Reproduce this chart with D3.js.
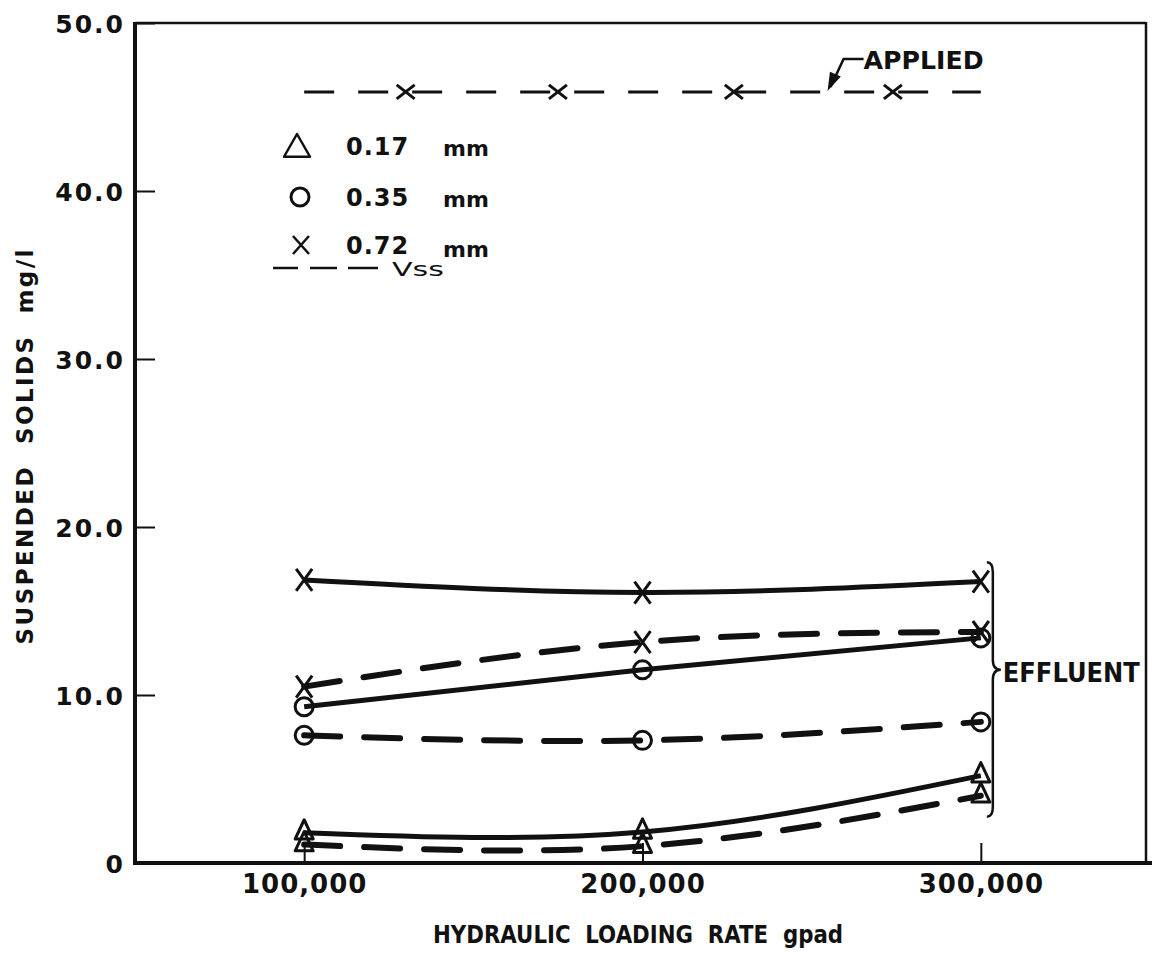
<!DOCTYPE html>
<html>
<head>
<meta charset="utf-8">
<script src="https://cdn.jsdelivr.net/npm/d3@7"></script>
<style>
  body { margin: 0; background: #fff; }
  svg { display: block; }
  text { font-family: "DejaVu Sans", sans-serif; fill: #111; }
</style>
</head>
<body>
<div class="chart-holder"></div>
<script>
// loading rates (gpad) where effluent was sampled
const loadingRates = [100000, 200000, 300000];

// effluent suspended solids, mg/l (solid = total, dashed = volatile)
const tss017 = [1.8, 1.85, 5.2];
const vss017 = [1.1, 1.0, 4.0];
const tss035 = [9.3, 11.5, 13.4];
const vss035 = [7.6, 7.3, 8.4];
const tss072 = [16.85, 16.1, 16.75];
const vss072 = [10.5, 13.15, 13.75];

// applied suspended solids
const appliedRange = [100000, 300000];
const appliedMarks = [130000, 175000, 227000, 274000];
const appliedValue = 45.9;

const yTicks = [0, 10, 20, 30, 40, 50];
const xTicks = [100000, 200000, 300000];
const legendLabels = ["0.17", "0.35", "0.72"];

const width = 1152, height = 954;

const svg = d3.select(".chart-holder").append("svg")
  .attr("width", width).attr("height", height);

const x = d3.scaleLinear().domain([50000, 350000]).range([135, 1150]);
const y = d3.scaleLinear().domain([0, 50]).range([863, 23]);

// marker shapes
const xMark = (w, h) => `M${-w},${-h}L${w},${h}M${-w},${h}L${w},${-h}`;
const triMark = (w, h) => `M0,${-h}L${w},${h * 0.75}L${-w},${h * 0.75}Z`;

// frame
svg.append("line").attr("x1", 135).attr("x2", 1146).attr("y1", 23).attr("y2", 23)
  .attr("stroke", "#111").attr("stroke-width", 2.5);
svg.append("line").attr("x1", 1146).attr("x2", 1146).attr("y1", 22).attr("y2", 863)
  .attr("stroke", "#111").attr("stroke-width", 2.5);

// y axis
const yAxis = d3.axisLeft(y)
  .tickValues(yTicks)
  .tickSizeInner(-20)
  .tickSizeOuter(0)
  .tickPadding(10)
  .tickFormat(d => d === 0 ? "0" : d3.format(".1f")(d));

const gy = svg.append("g").attr("transform", "translate(135,0)").call(yAxis);
gy.select(".domain").remove();
gy.selectAll(".tick line").attr("stroke", "#111").attr("stroke-width", 2);
gy.selectAll(".tick text")
  .attr("font-size", 25).attr("font-weight", "bold")
  .attr("letter-spacing", 2).attr("fill", "#111")
  .attr("dy", "0.36em");

// x axis
const xAxis = d3.axisBottom(x)
  .tickValues(xTicks)
  .tickSizeInner(-20)
  .tickSizeOuter(0)
  .tickPadding(12)
  .tickFormat(d3.format(","));

const gx = svg.append("g").attr("transform", "translate(0,863)").call(xAxis);
gx.select(".domain").remove();
gx.selectAll(".tick line").attr("stroke", "#111").attr("stroke-width", 2);
gx.selectAll(".tick text")
  .attr("font-size", 26).attr("font-weight", "bold")
  .attr("letter-spacing", 1).attr("fill", "#111");

svg.append("line").attr("x1", 135).attr("x2", 135).attr("y1", 22).attr("y2", 865)
  .attr("stroke", "#111").attr("stroke-width", 4);
svg.append("line").attr("x1", 133).attr("x2", 1152).attr("y1", 863).attr("y2", 863)
  .attr("stroke", "#111").attr("stroke-width", 4);

// axis titles
svg.append("text")
  .attr("x", 638).attr("y", 943)
  .attr("text-anchor", "middle")
  .attr("font-size", 25).attr("font-weight", "bold")
  .attr("textLength", 410).attr("lengthAdjust", "spacingAndGlyphs")
  .style("white-space", "pre")
  .text("HYDRAULIC  LOADING  RATE  gpad");

svg.append("text")
  .attr("transform", "translate(33,447) rotate(-90)")
  .attr("text-anchor", "middle")
  .attr("font-size", 23).attr("font-weight", "bold")
  .attr("textLength", 395).attr("lengthAdjust", "spacing")
  .style("white-space", "pre")
  .text("SUSPENDED  SOLIDS  mg/l");

// effluent curves
const line = d3.line()
  .x((d, i) => x(loadingRates[i]))
  .y(d => y(d))
  .curve(d3.curveNatural);

const series = [
  { values: tss072, dashed: false, mark: "x" },
  { values: vss072, dashed: true, mark: "x" },
  { values: tss035, dashed: false, mark: "o" },
  { values: vss035, dashed: true, mark: "o" },
  { values: tss017, dashed: false, mark: "t" },
  { values: vss017, dashed: true, mark: "t" }
];

series.forEach(s => {
  svg.append("path")
    .attr("d", line(s.values))
    .attr("fill", "none")
    .attr("stroke", "#111")
    .attr("stroke-width", s.dashed ? 6 : 5)
    .attr("stroke-linecap", s.dashed ? "round" : "butt")
    .attr("stroke-dasharray", s.dashed ? "36,24" : null);

  const g = svg.append("g");
  s.values.forEach((v, i) => {
    const px = x(loadingRates[i]), py = y(v);
    if (s.mark === "o") {
      g.append("circle").attr("cx", px).attr("cy", py).attr("r", 9)
        .attr("fill", "none").attr("stroke", "#111").attr("stroke-width", 3);
    } else if (s.mark === "x") {
      g.append("path").attr("d", xMark(8, 11))
        .attr("transform", `translate(${px},${py})`)
        .attr("fill", "none").attr("stroke", "#111").attr("stroke-width", 3);
    } else {
      g.append("path").attr("d", triMark(9, 11))
        .attr("transform", `translate(${px},${py - 2})`)
        .attr("fill", "none").attr("stroke", "#111").attr("stroke-width", 3)
        .attr("stroke-linejoin", "round");
    }
  });
});

// applied line
svg.append("line")
  .attr("x1", x(appliedRange[0])).attr("x2", x(appliedRange[1]))
  .attr("y1", y(appliedValue)).attr("y2", y(appliedValue))
  .attr("stroke", "#111").attr("stroke-width", 3)
  .attr("stroke-dasharray", "30,24");

svg.append("g").selectAll("path")
  .data(appliedMarks)
  .enter()
  .append("path")
  .attr("d", xMark(9, 7))
  .attr("transform", d => `translate(${x(d)},${y(appliedValue)})`)
  .attr("fill", "none").attr("stroke", "#111").attr("stroke-width", 3);

// APPLIED label with leader arrow
const tipX = x(255000), tipY = y(appliedValue) - 3;
svg.append("path")
  .attr("d", `M${tipX + 35},${tipY - 30}L${tipX + 15},${tipY - 30}L${tipX + 2},${tipY - 2}`)
  .attr("fill", "none").attr("stroke", "#111").attr("stroke-width", 2.5);
svg.append("path")
  .attr("d", `M${tipX},${tipY}L${tipX + 2},${tipY - 16}L${tipX + 11},${tipY - 12}Z`)
  .attr("fill", "#111").attr("stroke", "#111").attr("stroke-width", 1.5);
svg.append("text")
  .attr("x", tipX + 35).attr("y", tipY - 20)
  .attr("font-size", 25).attr("font-weight", "bold")
  .attr("textLength", 120).attr("lengthAdjust", "spacingAndGlyphs")
  .text("APPLIED");

// EFFLUENT brace
const bx = x(300000) + 12;
const bTop = y(17.9), bMid = y(11.5), bBot = y(2.75);
svg.append("path")
  .attr("d", `M${bx - 6},${bTop}Q${bx},${bTop} ${bx},${bTop + 10}` +
    `L${bx},${bMid - 10}Q${bx},${bMid} ${bx + 8},${bMid}` +
    `Q${bx},${bMid} ${bx},${bMid + 10}` +
    `L${bx},${bBot - 10}Q${bx},${bBot} ${bx - 6},${bBot}`)
  .attr("fill", "none").attr("stroke", "#111").attr("stroke-width", 2.5);
svg.append("text")
  .attr("x", bx + 10).attr("y", bMid + 12)
  .attr("font-size", 26).attr("font-weight", "bold")
  .attr("textLength", 137).attr("lengthAdjust", "spacingAndGlyphs")
  .text("EFFLUENT");

// legend
const legend = svg.append("g");
const rowY = [146, 197, 245];
legend.append("path").attr("d", triMark(13, 13))
  .attr("transform", `translate(297,${rowY[0] + 1})`)
  .attr("fill", "none").attr("stroke", "#111").attr("stroke-width", 2.5)
  .attr("stroke-linejoin", "round");
legend.append("circle").attr("cx", 300).attr("cy", rowY[1]).attr("r", 9)
  .attr("fill", "none").attr("stroke", "#111").attr("stroke-width", 3);
legend.append("path").attr("d", xMark(8, 9))
  .attr("transform", `translate(301,${rowY[2]})`)
  .attr("fill", "none").attr("stroke", "#111").attr("stroke-width", 2.5);

legend.selectAll(".lab")
  .data(legendLabels)
  .enter()
  .append("text")
  .attr("x", 346)
  .attr("y", (d, i) => rowY[i] + 9)
  .attr("font-size", 24).attr("font-weight", "bold")
  .attr("letter-spacing", 1)
  .text(d => d);

legend.selectAll(".unit")
  .data(legendLabels)
  .enter()
  .append("text")
  .attr("x", 443)
  .attr("y", (d, i) => rowY[i] + (i === 2 ? 12 : 10))
  .attr("font-size", 22).attr("font-weight", "bold")
  .text("mm");

legend.append("path")
  .attr("d", "M273,268L298,268M310,268L337,268M348,268L378,268")
  .attr("stroke", "#111").attr("stroke-width", 2.5);
legend.append("text")
  .attr("x", 392).attr("y", 276)
  .attr("font-size", 20)
  .attr("textLength", 52).attr("lengthAdjust", "spacingAndGlyphs")
  .text("Vss");
</script>
</body>
</html>
